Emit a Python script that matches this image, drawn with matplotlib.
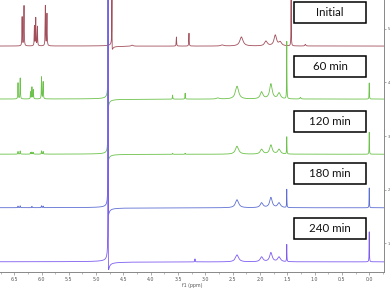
import numpy as np
import matplotlib
matplotlib.use("Agg")
import matplotlib.pyplot as plt
from matplotlib.patches import Rectangle
from matplotlib.ticker import MultipleLocator

# ---- data ----
labels = ["Initial", "60 min", "120 min", "180 min", "240 min"]
colors = ["#a24f5c", "#6cc24a", "#6cc24a", "#5d6fd2", "#7f5cf0"]
offsets = [4.68, 3.69, 2.66, 1.66, 0.65]

# peaks: (ppm, height, half-width)
peaks_initial = [(6.355, 0.54, 0.004), (6.32, 0.75, 0.004),
                 (6.13, 0.37, 0.004), (6.105, 0.52, 0.004), (6.075, 0.36, 0.004),
                 (5.93, 0.75, 0.004), (5.90, 0.60, 0.004),
                 (4.34, 0.02, 0.02), (3.53, 0.17, 0.004), (3.30, 0.24, 0.004),
                 (2.69, 0.02, 0.03), (2.34, 0.17, 0.035),
                 (1.89, 0.09, 0.03), (1.72, 0.20, 0.028), (1.63, 0.07, 0.03),
                 (1.43, 1.00, 0.003), (1.17, 0.03, 0.01)]
peaks_60 = [(6.43, 0.30, 0.004), (6.39, 0.39, 0.004),
            (6.20, 0.13, 0.004), (6.175, 0.22, 0.004), (6.15, 0.17, 0.004),
            (6.00, 0.41, 0.004), (5.97, 0.32, 0.004),
            (3.60, 0.075, 0.004), (3.37, 0.11, 0.004),
            (2.77, 0.02, 0.03), (2.42, 0.24, 0.035),
            (1.97, 0.13, 0.03), (1.80, 0.28, 0.028), (1.65, 0.11, 0.03),
            (1.51, 1.07, 0.003), (1.26, 0.03, 0.01), (0.0, 0.30, 0.003)]
peaks_120 = [(6.43, 0.05, 0.004), (6.39, 0.06, 0.004),
             (6.20, 0.03, 0.004), (6.175, 0.04, 0.004), (6.15, 0.03, 0.004),
             (6.00, 0.06, 0.004), (5.97, 0.05, 0.004),
             (3.60, 0.02, 0.004), (3.37, 0.02, 0.004),
             (2.42, 0.15, 0.035), (1.97, 0.09, 0.03), (1.80, 0.17, 0.028),
             (1.65, 0.09, 0.03), (1.51, 0.32, 0.003), (0.0, 0.41, 0.003)]
peaks_180 = [(6.43, 0.03, 0.004), (6.39, 0.035, 0.004),
             (6.175, 0.025, 0.004), (6.00, 0.035, 0.004), (5.97, 0.03, 0.004),
             (2.42, 0.15, 0.035), (1.97, 0.09, 0.03), (1.80, 0.19, 0.028),
             (1.65, 0.09, 0.03), (1.51, 0.34, 0.003), (0.0, 0.37, 0.003)]
peaks_240 = [(3.19, 0.056, 0.004),
             (2.42, 0.13, 0.035), (1.97, 0.09, 0.03), (1.80, 0.17, 0.028),
             (1.65, 0.09, 0.03), (1.51, 0.32, 0.003), (0.0, 0.56, 0.003)]
peak_sets = [peaks_initial, peaks_60, peaks_120, peaks_180, peaks_240]

# water signal: (ppm, amplitude, half-width, phase deg)
water = [(4.71, 2.0, 0.0015, 20), (4.78, 4.0, 0.0015, 20), (4.78, 4.0, 0.0015, 18),
         (4.78, 5.0, 0.0015, 18), (4.78, 6.0, 0.0015, 18)]

xmin, xmax = -0.27, 6.76
ymin, ymax = 0.46, 5.54
xticks = [6.5, 6.0, 5.5, 5.0, 4.5, 4.0, 3.5, 3.0, 2.5, 2.0, 1.5, 1.0, 0.5, 0.0]
yticks = [1, 2, 3, 4, 5]

ppm = np.linspace(xmin, xmax, 40000)


def spectrum(peaks, wat):
    y = np.zeros_like(ppm)
    for c, h, w in peaks:
        y += h * w**2 / (w**2 + (ppm - c)**2)
    c, a, w, ph = wat
    t = (ppm - c) / w
    p = np.deg2rad(ph)
    y += a * (np.cos(p) + np.sin(p) * t) / (1 + t**2)
    return y


W, H = 392, 288
fig = plt.figure(figsize=(W / 100, H / 100), dpi=100)
ax = fig.add_axes([0, 1 - 272 / H, 384 / W, 272 / H])

for lab, col, off, pk, wt in zip(labels, colors, offsets, peak_sets, water):
    ax.plot(ppm, off + spectrum(pk, wt), color=col, lw=0.6, solid_joinstyle="round")

ax.set_xlim(xmax, xmin)
ax.set_ylim(ymin, ymax)
ax.set_xticks(xticks)
ax.set_xticklabels([f"{v:.1f}" for v in xticks])
ax.xaxis.set_minor_locator(MultipleLocator(0.25))
ax.set_yticks(yticks)
ax.yaxis.tick_right()
for s in ["top", "left"]:
    ax.spines[s].set_visible(False)
for s in ["bottom", "right"]:
    ax.spines[s].set_color("#888888")
    ax.spines[s].set_linewidth(0.7)
ax.tick_params(axis="x", which="major", length=2.0, width=0.5, color="#888888",
               labelsize=3.4, labelcolor="#555555", pad=1.5)
ax.tick_params(axis="x", which="minor", length=1.2, width=0.4, color="#888888")
ax.tick_params(axis="y", length=1.5, width=0.5, color="#888888",
               labelsize=2.6, labelcolor="#555555", pad=1)
ax.set_xlabel("f1 (ppm)", fontsize=3.4, color="#555555", labelpad=0.5)
ax.patch.set_alpha(0)

# label boxes (pixel layout converted to axes fraction)
box_centers = [12.5, 66.5, 121.5, 173.5, 228.0]
for lab, yc in zip(labels, box_centers):
    bx = 294 / 384
    bw = 72 / 384
    bh = 21 / 272
    by = (272 - yc) / 272 - bh / 2
    ax.add_patch(Rectangle((bx, by), bw, bh, transform=ax.transAxes,
                           facecolor="white", edgecolor="black", lw=1.1, zorder=5))
    ax.text(bx + bw / 2, by + bh / 2, lab, transform=ax.transAxes, ha="center",
            va="center", fontsize=8.3, family=["Lato", "DejaVu Sans"], color="#111111",
            zorder=6)

fig.savefig("out.png", dpi=100)
